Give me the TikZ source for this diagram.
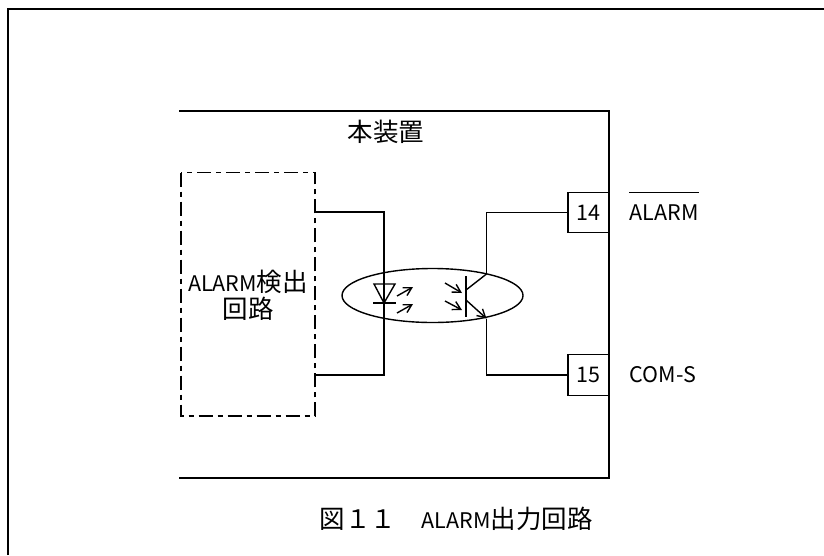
\documentclass[tikz,border=0pt]{standalone}
\usepackage{fontspec}
\setmainfont{Noto Sans CJK JP}
\usetikzlibrary{arrows.meta}
\usetikzlibrary{shapes.geometric}
\usetikzlibrary{positioning}

\newcommand{\lat}[1]{{\fontsize{21.5}{27}\selectfont #1}}

\begin{document}
\begin{tikzpicture}[x=1pt, y=-1pt, line width=1.4pt,
	txt/.style={inner sep=0pt, font=\fontsize{25.5}{27}\selectfont},
	term/.style={draw, rectangle, minimum width=41pt, minimum height=40.5pt, inner sep=0pt},
	frm/.style={line width=2pt},
	>={Straight Barb[length=8pt, width=9pt]}]
			\useasboundingbox (0,0) rectangle (824,555);
			\draw[frm] (8,555) -- (8,9) -- (824,9);
			% device
			\draw[frm] (179,110.7) -- (609,110.7) -- (609,478) -- (179,478);
			\node[txt] (dev) at (386,132) {本装置};
			% detection circuit
			\draw[dash pattern=on 14pt off 5pt on 5pt off 5pt] (181,172.7) rectangle (315,416);
			\node[txt, align=center] (det) at (248,295) {\lat{ALARM}検出\\回路};
			\coordinate (dA) at (315,212);
			\coordinate (dK) at (315,375);
			% LED
			\coordinate (ledA) at (384,212);
			\coordinate (ledK) at (384,375);
			\draw (dA) -- (ledA) -- (ledK) -- (dK);
			\draw (374,284) -- (395,284) -- (384,303) -- cycle;
			\draw (373,303) -- (396,303);
			\draw[->] (397,296) -- (413,287);
			\draw[->] (397,313) -- (413,304);
			% coupler
			\node[draw, ellipse, minimum width=181pt, minimum height=54pt, inner sep=0pt] (cpl) at (432.5,295.5) {};
			% transistor
			\draw[line width=1.8pt] (466,276) -- (466,317);
			\draw[->] (445,283) -- (462,293);
			\draw[->] (445,301) -- (462,310);
			\coordinate (qC) at (486.5,274);
			\coordinate (qE) at (486.5,318.5);
			\draw (466,290) -- (qC);
			\draw[->] (466,300) -- (qE);
			% terminals
			\node[term, txt] (t14) at (588.5,212.5) {\lat{14}};
			\node[term, txt] (t15) at (588.5,375) {\lat{15}};
			\draw (qC) |- (t14.west);
			\draw (qE) |- (t15.west);
			\node[txt, anchor=west] (alarm) at (629,213) {\lat{ALARM}};
			\coordinate (bar) at (0,192.3);
			\draw (alarm.west |- bar) -- (alarm.east |- bar);
			\node[txt, anchor=west] (com) at (629,375) {\lat{COM-S}};
			% caption
			\node[txt] (cap) at (456,519) {図１１　\lat{ALARM}出力回路};
		\end{tikzpicture}
\end{document}
